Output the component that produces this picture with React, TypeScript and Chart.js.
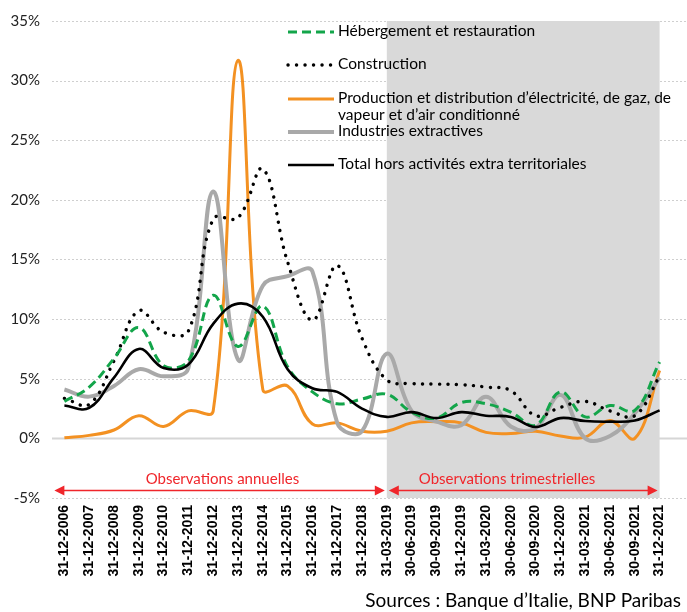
import React, { useEffect, useRef } from 'react';
import { Chart, registerables } from 'chart.js';

Chart.register(...registerables);

const categories = [
  '31-12-2006', '31-12-2007', '31-12-2008', '31-12-2009', '31-12-2010', '31-12-2011',
  '31-12-2012', '31-12-2013', '31-12-2014', '31-12-2015', '31-12-2016', '31-12-2017',
  '31-12-2018', '31-03-2019', '30-06-2019', '30-09-2019', '31-12-2019', '31-03-2020',
  '30-06-2020', '30-09-2020', '31-12-2020', '31-03-2021', '30-06-2021', '30-09-2021',
  '31-12-2021',
];

const hebergement = [3.1, 4.3, 6.7, 9.3, 6.1, 6.5, 12.0, 7.7, 11.1, 6.0, 3.9, 2.9, 3.3, 3.7, 2.2, 1.7, 3.0, 2.9, 2.2, 1.1, 3.9, 1.8, 2.75, 2.35, 6.4];
const construction = [3.35, 2.85, 6.5, 10.7, 8.9, 9.0, 18.4, 18.5, 22.6, 14.8, 9.9, 14.5, 8.4, 4.9, 4.6, 4.55, 4.5, 4.3, 4.0, 1.9, 2.6, 3.1, 2.3, 1.9, 5.2];
const production = [0.05, 0.25, 0.7, 1.9, 1.0, 2.3, 2.3, 31.7, 4.1, 4.4, 1.2, 1.3, 0.6, 0.6, 1.3, 1.4, 1.3, 0.5, 0.4, 0.6, 0.2, 0.1, 1.5, 0.0, 5.7];
const industries = [4.1, 3.5, 4.4, 5.8, 5.2, 5.9, 20.7, 6.6, 12.8, 13.6, 14.0, 1.3, 0.6, 7.1, 2.3, 1.4, 1.1, 3.5, 1.0, 0.85, 3.65, 0.0, 0.2, 2.1, 5.1];
const total = [2.75, 2.55, 5.1, 7.5, 5.9, 6.2, 9.6, 11.3, 10.2, 5.8, 4.2, 3.9, 2.5, 1.8, 2.2, 1.7, 2.2, 1.9, 1.8, 0.95, 1.7, 1.45, 1.4, 1.5, 2.35];

const seriesLabels = [
  'Hébergement et restauration',
  'Construction',
  'Production et distribution d\u2019électricité, de gaz, de\nvapeur et d\u2019air conditionné',
  'Industries extractives',
  'Total hors activités extra territoriales',
];

const annualLabel = 'Observations annuelles';
const quarterlyLabel = 'Observations trimestrielles';
const sourceText = 'Sources : Banque d\u2019Italie, BNP Paribas';

const COLORS = {
  green: '#13a54a',
  black: '#000000',
  orange: '#f39122',
  gray: '#a9a9a9',
  red: '#f0262b',
  shade: '#d9d9d9',
};

const TEXT_FONT = "Lato, 'Noto Sans', sans-serif";
const AXIS_FONT = "'Liberation Sans', Arial, sans-serif";

export default function App() {
  const canvasRef = useRef<HTMLCanvasElement | null>(null);

  useEffect(() => {
    document.body.style.margin = '0';
    const canvas = canvasRef.current;
    if (!canvas) return;

    const bgPlugin = {
      id: 'bgPlugin',
      beforeDatasetsDraw(chart: any) {
        const { ctx, chartArea, scales } = chart;
        const x = scales.x;
        const y = scales.y;
        ctx.save();
        y.ticks.forEach((t: any) => {
          const py = Math.round(y.getPixelForValue(t.value)) + 0.5;
          ctx.beginPath();
          if (t.value === 0) {
            ctx.setLineDash([]);
            ctx.strokeStyle = '#d6d6d6';
            ctx.lineWidth = 2;
          } else {
            ctx.setLineDash([2, 2]);
            ctx.strokeStyle = '#cfcfcf';
            ctx.lineWidth = 1;
          }
          ctx.moveTo(chartArea.left, py);
          ctx.lineTo(chart.width, py);
          ctx.stroke();
        });
        ctx.setLineDash([]);
        const x0 = x.getPixelForValue(13);
        const x1 = x.getPixelForValue(categories.length - 1);
        ctx.fillStyle = COLORS.shade;
        ctx.fillRect(x0, chartArea.top, x1 - x0, chartArea.bottom - chartArea.top);
        ctx.restore();
      },
      afterDatasetsDraw(chart: any) {
        const { ctx, scales } = chart;
        const x = scales.x;
        const y = scales.y;
        ctx.save();
        const arrowY = Math.round(y.getPixelForValue(-4.35)) + 0.5;
        const textY = y.getPixelForValue(-3.45);
        const drawArrow = (xa: number, xb: number) => {
          ctx.strokeStyle = COLORS.red;
          ctx.fillStyle = COLORS.red;
          ctx.lineWidth = 1.5;
          ctx.beginPath();
          ctx.moveTo(xa + 4, arrowY);
          ctx.lineTo(xb - 4, arrowY);
          ctx.stroke();
          const head = (tip: number, dir: number) => {
            ctx.beginPath();
            ctx.moveTo(tip, arrowY);
            ctx.lineTo(tip - dir * 10, arrowY - 5);
            ctx.lineTo(tip - dir * 10, arrowY + 5);
            ctx.closePath();
            ctx.fill();
          };
          head(xa, -1);
          head(xb, 1);
        };
        const xs = x.getPixelForValue(0) - 10;
        const xm = x.getPixelForValue(13);
        const xe = x.getPixelForValue(categories.length - 1) - 2;
        drawArrow(xs, xm - 2);
        drawArrow(xm + 2, xe);
        ctx.font = `15px ${TEXT_FONT}`;
        ctx.textAlign = 'center';
        ctx.textBaseline = 'middle';
        ctx.fillStyle = COLORS.red;
        ctx.fillText(annualLabel, x.getPixelForValue(6.37), textY);
        ctx.fillText(quarterlyLabel, x.getPixelForValue(17.85), textY);

        // legend
        const ds = chart.data.datasets;
        const rows = [32, 65, 99, 132, 165];
        const sx0 = 288;
        const sx1 = 334;
        const tx = 338;
        ctx.textAlign = 'left';
        ctx.textBaseline = 'middle';
        ctx.font = `15.5px ${TEXT_FONT}`;
        ds.forEach((d: any, i: number) => {
          const ry = rows[i];
          ctx.save();
          ctx.strokeStyle = d.borderColor;
          ctx.lineWidth = d.borderWidth;
          ctx.lineCap = d.borderCapStyle || 'butt';
          ctx.setLineDash(d.borderDash || []);
          ctx.beginPath();
          ctx.moveTo(sx0, ry);
          ctx.lineTo(sx1, ry);
          ctx.stroke();
          ctx.restore();
          ctx.fillStyle = '#000';
          const lines = String(d.label).split('\n');
          lines.forEach((ln, k) => {
            ctx.fillText(ln, tx, ry - 1 + k * 17);
          });
        });

        ctx.font = `19px ${TEXT_FONT}`;
        ctx.textAlign = 'right';
        ctx.textBaseline = 'alphabetic';
        ctx.fillStyle = '#000';
        ctx.fillText(sourceText, 681, 607);
        ctx.restore();
      },
    };

    const chart = new Chart(canvas, {
      type: 'line',
      data: {
        labels: categories,
        datasets: [
          {
            label: seriesLabels[0],
            data: hebergement,
            borderColor: COLORS.green,
            borderWidth: 3,
            borderDash: [9, 5],
            order: 2,
          },
          {
            label: seriesLabels[1],
            data: construction,
            borderColor: COLORS.black,
            borderWidth: 3.4,
            borderDash: [0.1, 8.4],
            borderCapStyle: 'round',
            order: 3,
          },
          {
            label: seriesLabels[2],
            data: production,
            borderColor: COLORS.orange,
            borderWidth: 3,
            order: 5,
          },
          {
            label: seriesLabels[3],
            data: industries,
            borderColor: COLORS.gray,
            borderWidth: 4,
            order: 4,
          },
          {
            label: seriesLabels[4],
            data: total,
            borderColor: COLORS.black,
            borderWidth: 2.6,
            order: 1,
          },
        ],
      },
      options: {
        responsive: false,
        animation: false,
        layout: { padding: { top: 12, left: 11, right: 15, bottom: 28.4 } },
        elements: {
          point: { radius: 0, hoverRadius: 0 },
          line: { tension: 0.4, fill: false },
        },
        plugins: {
          legend: { display: false },
          tooltip: { enabled: false },
        },
        scales: {
          x: {
            type: 'category',
            offset: true,
            grid: { display: false, drawTicks: false },
            border: { display: false },
            afterFit: (scale: any) => {
              scale.paddingLeft = 0;
              scale.paddingRight = 0;
            },
            ticks: {
              autoSkip: false,
              maxRotation: 90,
              minRotation: 90,
              padding: 7,
              color: '#000',
              font: { family: AXIS_FONT, size: 14, weight: 'bold' },
            },
          },
          y: {
            min: -5,
            max: 35,
            grid: { display: false, drawTicks: false },
            border: { display: false },
            afterFit: (scale: any) => {
              scale.width = 41;
            },
            ticks: {
              stepSize: 5,
              padding: 12,
              color: '#222',
              font: { family: TEXT_FONT, size: 15 },
              callback: (v: any) => `${v}%`,
            },
          },
        },
      },
      plugins: [bgPlugin],
    });

    return () => chart.destroy();
  }, []);

  return (
    <div style={{ position: 'absolute', left: 0, top: 0, width: 687, height: 612, background: '#fff' }}>
      <canvas ref={canvasRef} width={687} height={612} />
    </div>
  );
}
